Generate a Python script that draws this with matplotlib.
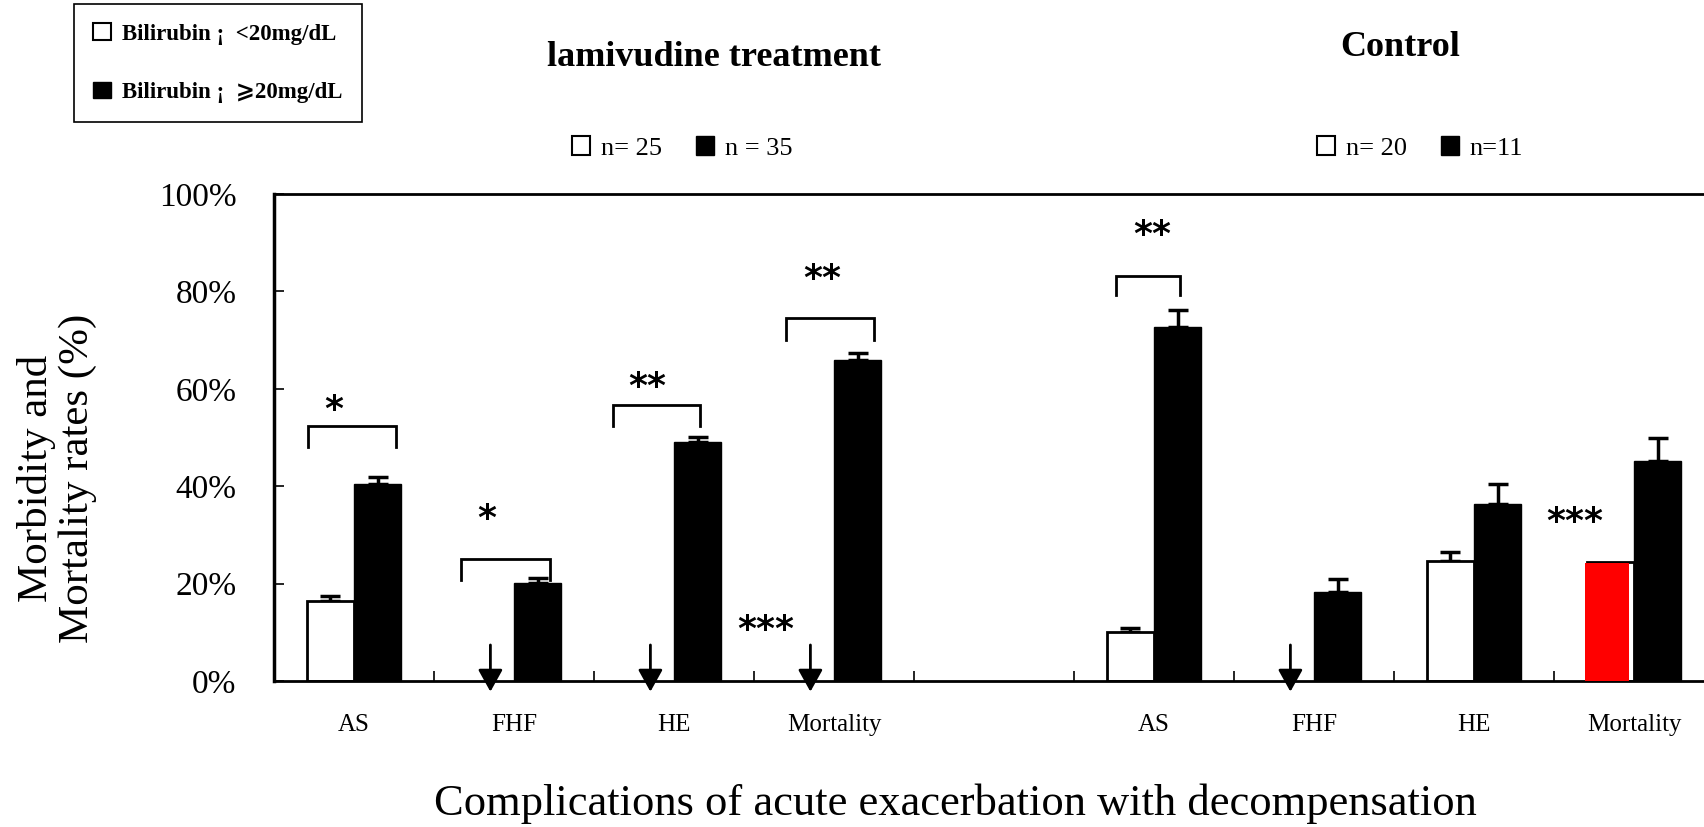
import matplotlib
matplotlib.use('Agg')
import matplotlib.pyplot as plt
from matplotlib.patches import Patch
import numpy as np

plt.rcParams['font.family'] = ['Liberation Serif', 'DejaVu Serif', 'DejaVu Sans']

# %% DATA
categories = ['AS', 'FHF', 'HE', 'Mortality']
group_titles = ['lamivudine treatment', 'Control']
n_low = ['n= 25', 'n= 20']
n_high = ['n = 35', 'n=11']
legend_labels = ['Bilirubin \u00a1  <20mg/dL', 'Bilirubin \u00a1  \u2a7e20mg/dL']

# white bars = bilirubin <20, black bars = bilirubin >=20 (percent)
lam_low = [16.5, 0, 0, 0]
lam_low_err = [1.0, 0, 0, 0]
lam_high = [40.5, 20.2, 49.0, 66.0]
lam_high_err = [1.4, 0.9, 1.1, 1.3]

ctl_low = [10.0, 0, 24.6, 24.4]
ctl_low_err = [0.8, 0, 1.9, 0]
ctl_high = [72.6, 18.3, 36.3, 45.2]
ctl_high_err = [3.5, 2.6, 4.1, 4.7]

ctl_red = [0, 0, 0, 24.2]  # control mortality bar drawn in red

# significance brackets
sig_slot = [0, 1, 2, 3, 5]
sig_label = ['*', '*', '**', '**', '**']
sig_left = [-0.29, -0.33, -0.38, -0.30, -0.24]
sig_right = [0.26, 0.225, 0.16, 0.25, 0.16]
sig_top = [52.3, 25.1, 56.6, 74.5, 83.1]
sig_leg = [48.0, 20.8, 52.3, 70.0, 79.2]
sig_text_dx = [-0.125, -0.17, -0.17, -0.075, -0.01]
sig_text_y = [57.4, 35.0, 62.0, 84.2, 93.2]

# free-standing stars
star3_x = [2.575, 7.63]
star3_y = [12.1, 34.4]

# %% LAYOUT
W, H = 1704, 827
fig = plt.figure(figsize=(W / 100, H / 100), dpi=100)
ax = fig.add_axes([274 / W, 1 - 681 / H, 1 - 274 / W, (681 - 194) / H])

slots_lam = np.arange(4)
slots_ctl = np.arange(4) + 5
bw = 0.295

low = np.array(lam_low + ctl_low)
low_err = np.array(lam_low_err + ctl_low_err)
high = np.array(lam_high + ctl_high)
high_err = np.array(lam_high_err + ctl_high_err)
red = np.array([0] * 4 + ctl_red)
slots = np.concatenate([slots_lam, slots_ctl])
x_low = slots - bw / 2
x_high = slots + bw / 2

ax.bar(x_low[low > 0], low[low > 0], bw, facecolor='white', edgecolor='black', linewidth=2, zorder=2)
ax.bar(x_high, high, bw, facecolor='black', edgecolor='black', linewidth=1, zorder=2)
ax.bar(x_low[red > 0] - 0.02, red[red > 0], bw * 0.93, facecolor='#ff0000', edgecolor='none', zorder=3)

# error bars, upward only
m = low_err > 0
ax.errorbar(x_low[m], low[m], yerr=[np.zeros(m.sum()), low_err[m]], fmt='none',
            ecolor='black', elinewidth=2.5, capsize=7, capthick=2.5, zorder=1)
ax.errorbar(x_high, high, yerr=[np.zeros(len(high)), high_err], fmt='none',
            ecolor='black', elinewidth=2.5, capsize=7, capthick=2.5, zorder=1)

# arrows for zero-valued white bars
for xv in x_low[(low == 0) & (red == 0)]:
    ax.annotate('', xy=(xv, -2.2), xytext=(xv, 7.4), annotation_clip=False,
                arrowprops=dict(arrowstyle='-|>,head_length=1.35,head_width=0.75',
                                mutation_scale=10, lw=2, color='black',
                                shrinkA=0, shrinkB=0))

# brackets + stars
for s, lab, l, r, t, lg, dx, ty in zip(sig_slot, sig_label, sig_left, sig_right,
                                       sig_top, sig_leg, sig_text_dx, sig_text_y):
    ax.plot([s + l, s + l, s + r, s + r], [lg, t, t, lg], color='black', lw=2, solid_joinstyle='miter')
    ax.annotate(lab, (s + dx, ty), xytext=(0, -6), textcoords='offset points',
                ha='center', va='center', fontsize=26, fontweight='bold', family='DejaVu Sans')
for xs, ys in zip(star3_x, star3_y):
    ax.annotate('***', (xs, ys), xytext=(0, -6), textcoords='offset points',
                ha='center', va='center', fontsize=26, fontweight='bold', family='DejaVu Sans')

# axes styling
ax.set_xlim(-0.5, (W - 274) / 160 - 0.5)
ax.set_ylim(0, 100)
ax.set_yticks(np.arange(0, 101, 20))
ax.set_yticklabels([f'{v}%' for v in range(0, 101, 20)])
ax.tick_params(axis='y', direction='in', length=7, width=1.2, pad=27, labelsize=24)
ax.set_xticks(np.arange(0.5, 8, 1))
ax.set_xticklabels([])
ax.tick_params(axis='x', which='major', direction='in', length=7, width=1.2)
ax.set_xticks(slots, categories * 2, minor=True)
ax.tick_params(axis='x', which='minor', length=0, pad=24, labelsize=18)
ax.spines['right'].set_visible(False)
ax.spines['left'].set_linewidth(2.5)
ax.spines['top'].set_linewidth(2)
ax.spines['bottom'].set_linewidth(2)

# titles
fig.text(714 / W, 1 - 57 / H, group_titles[0], ha='center', va='center', fontsize=26, fontweight='bold')
fig.text(1400 / W, 1 - 48 / H, group_titles[1], ha='center', va='center', fontsize=26, fontweight='bold')

# n= legends
wpatch = Patch(facecolor='white', edgecolor='black', linewidth=1.5)
kpatch = Patch(facecolor='black', edgecolor='black')
for cx, i in [(682, 0), (1420, 1)]:
    fig.legend(handles=[wpatch, kpatch], labels=[n_low[i], n_high[i]], ncol=2,
               loc='center', bbox_to_anchor=(cx / W, 1 - 148 / H), frameon=False,
               fontsize=19, handlelength=0.7, handleheight=0.7, handletextpad=0.4,
               columnspacing=1.3)

# bilirubin legend box
leg = fig.legend(handles=[wpatch, kpatch], labels=legend_labels, loc='upper left',
                 bbox_to_anchor=(74 / W, 1 - 4 / H), borderaxespad=0,
                 prop={'weight': 'bold', 'size': 16.5}, fancybox=False,
                 edgecolor='black', framealpha=1, handlelength=0.75, handleheight=0.75,
                 handletextpad=0.5, labelspacing=1.6, borderpad=0.85)
leg.get_frame().set_linewidth(1.2)

# axis labels
fig.text(57 / W, 1 - 478 / H, 'Morbidity and\nMortality rates (%)', rotation=90,
         ha='center', va='center', fontsize=31, linespacing=1.1)
fig.text(955 / W, 1 - 804 / H, 'Complications of acute exacerbation with decompensation',
         ha='center', va='center', fontsize=32)

fig.savefig('out.png', dpi=100)
